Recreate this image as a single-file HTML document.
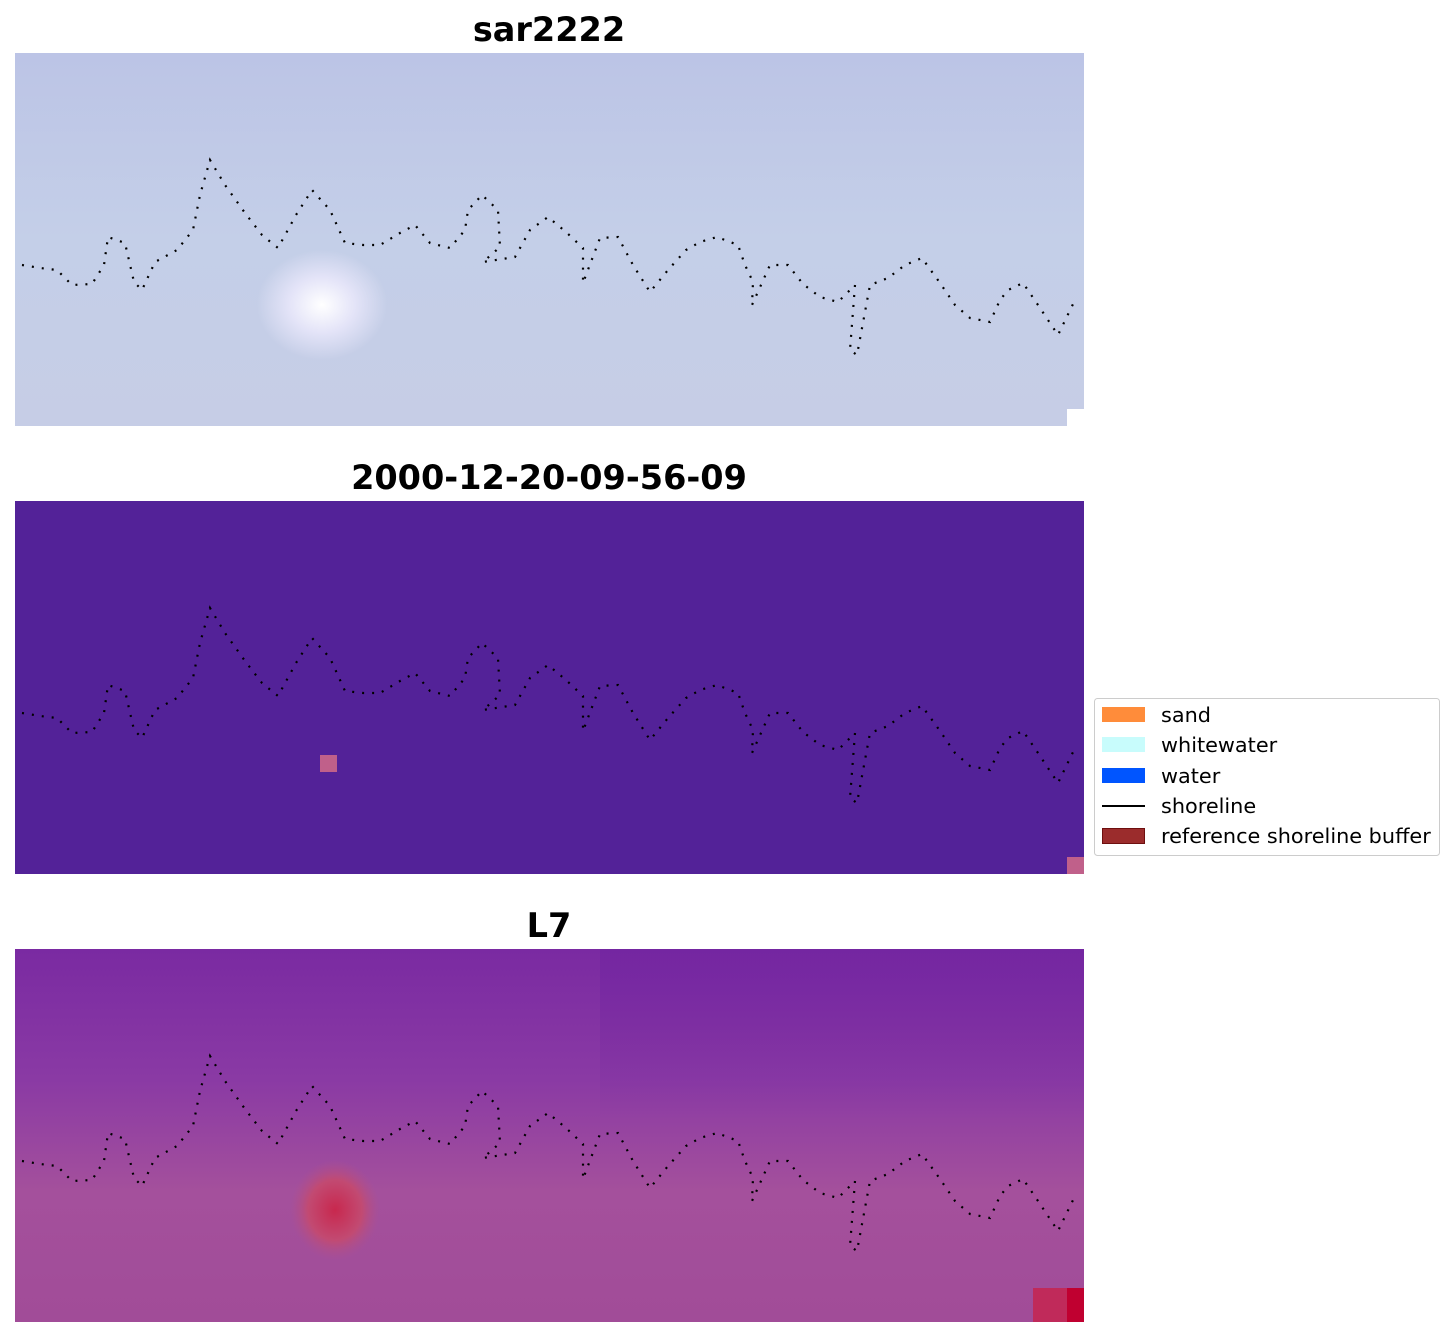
<!DOCTYPE html>
<html><head><meta charset="utf-8"><style>
body{margin:0;background:#fff;width:1455px;height:1337px;overflow:hidden;font-family:"DejaVu Sans","Liberation Sans",sans-serif;}
</style></head><body>
<svg width="1455" height="1337" xmlns="http://www.w3.org/2000/svg">
<defs>
<linearGradient id="g1" x1="0" y1="0" x2="0" y2="1">
<stop offset="0" stop-color="#bcc4e6"/><stop offset="0.5" stop-color="#c4cfe8"/><stop offset="1" stop-color="#c6cde6"/></linearGradient>
<radialGradient id="spot" cx="0.5" cy="0.5" r="0.5"><stop offset="0" stop-color="#ffffff"/><stop offset="0.5" stop-color="#e4e4f8"/><stop offset="1" stop-color="#e4e4f8" stop-opacity="0"/></radialGradient>
<linearGradient id="g3" x1="0" y1="0" x2="0" y2="1">
<stop offset="0" stop-color="#7a2aa2"/><stop offset="0.35" stop-color="#8a3aa4"/><stop offset="0.65" stop-color="#a4509c"/><stop offset="1" stop-color="#a14c98"/></linearGradient>
<linearGradient id="g3b" x1="0" y1="0" x2="0" y2="1">
<stop offset="0" stop-color="#6e22a0" stop-opacity="0.5"/><stop offset="1" stop-color="#6e22a0" stop-opacity="0"/></linearGradient>
<radialGradient id="red" cx="0.5" cy="0.5" r="0.5"><stop offset="0" stop-color="#c8284e"/><stop offset="0.6" stop-color="#c24a72"/><stop offset="1" stop-color="#b0508a" stop-opacity="0"/></radialGradient>
<path id="sl" d="M22,265 L40,268 L57,270 L72,285 L92,284 L104,265 L108,237 L125,243 L134,282 L142,290 L155,262 L177,250 L193,230 L200,195 L210,160 L225,185 L245,213 L262,235 L278,248 L296,215 L312,190 L330,210 L345,243 L363,245 L380,245 L400,233 L415,225 L430,243 L450,248 L465,230 L468,210 L482,195 L498,210 L500,247 L483,262 L515,257 L530,230 L548,217 L566,232 L583,248 L583,283 L600,238 L618,237 L633,265 L650,292 L668,270 L686,250 L700,242 L717,237 L738,245 L745,265 L753,282 L752,305 L770,265 L788,265 L803,284 L820,297 L838,302 L855,285 L850,350 L857,355 L870,285 L888,278 L905,265 L922,258 L940,283 L955,305 L970,318 L990,322 L1000,300 L1008,290 L1023,283 L1038,305 L1058,335 L1075,300" fill="none" stroke="#000" stroke-width="2.2" stroke-dasharray="2 8"/>
</defs>
<g font-weight="bold" font-size="33.5" text-anchor="middle" fill="#000">
<text x="549" y="41">sar2222</text>
<text x="549" y="489">2000-12-20-09-56-09</text>
<text x="549" y="937">L7</text>
</g>
<rect x="15" y="53" width="1069" height="373" fill="url(#g1)"/>
<ellipse cx="322" cy="305" rx="65" ry="55" fill="url(#spot)"/>
<rect x="1067" y="409" width="17" height="17" fill="#fff"/>
<use href="#sl"/>
<rect x="15" y="501" width="1069" height="373" fill="#532298"/>
<rect x="320" y="755" width="17" height="17" fill="#c0608a"/>
<rect x="1067" y="857" width="17" height="17" fill="#c0608a"/>
<use href="#sl" y="448"/>
<rect x="15" y="949" width="1069" height="373" fill="url(#g3)"/>
<rect x="600" y="949" width="484" height="170" fill="url(#g3b)"/>
<ellipse cx="335" cy="1210" rx="45" ry="50" fill="url(#red)"/>
<rect x="1033" y="1288" width="51" height="34" fill="#c02a5a"/>
<rect x="1067" y="1288" width="17" height="34" fill="#c00030"/>
<use href="#sl" y="896"/>
<rect x="1094.5" y="698.5" width="345" height="157" rx="3" fill="#fff" stroke="#ccc"/>
<rect x="1102" y="707" width="43" height="15" fill="#ff8c3a"/>
<rect x="1102" y="737" width="43" height="15" fill="#c8fcfc"/>
<rect x="1102" y="768" width="43" height="15" fill="#0055ff"/>
<line x1="1102" y1="806" x2="1145" y2="806" stroke="#000" stroke-width="2"/>
<rect x="1102.5" y="828.5" width="42" height="15" fill="#9b2c2c" stroke="#6e0f0f"/>
<g font-size="20.8" fill="#000">
<text x="1161" y="722">sand</text>
<text x="1161" y="752">whitewater</text>
<text x="1161" y="783">water</text>
<text x="1161" y="813">shoreline</text>
<text x="1161" y="843">reference shoreline buffer</text>
</g>
</svg>
</body></html>
